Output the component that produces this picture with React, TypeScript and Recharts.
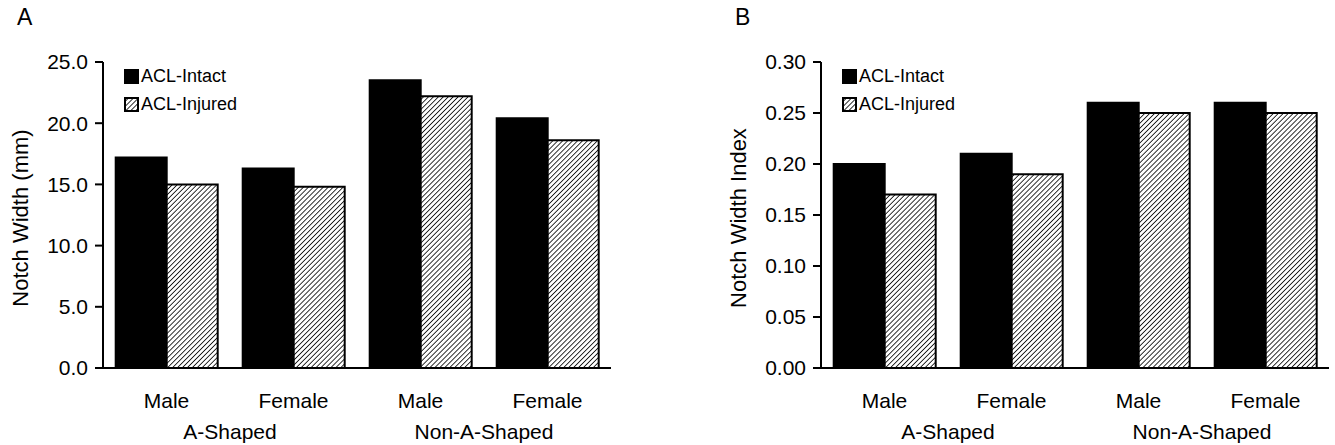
import React from 'react'
import { Bar, BarChart, XAxis, YAxis } from 'recharts'

const sexes = ['Male', 'Female', 'Male', 'Female']
const shapes = ['A-Shaped', 'A-Shaped', 'Non-A-Shaped', 'Non-A-Shaped']

const widthIntact = [17.2, 16.3, 23.5, 20.4]
const widthInjured = [15.0, 14.8, 22.2, 18.6]

const indexIntact = [0.20, 0.21, 0.26, 0.26]
const indexInjured = [0.17, 0.19, 0.25, 0.25]

const widthTicks = [0, 5, 10, 15, 20, 25]
const indexTicks = [0, 0.05, 0.1, 0.15, 0.2, 0.25, 0.3]

const FONT = 'Arial, "Liberation Sans", Helvetica, sans-serif'
const AXIS_FONT = 21

const buildRows = (intact: number[], injured: number[]) =>
  sexes.map((sex, i) => ({ sex, shape: shapes[i], intact: intact[i], injured: injured[i] }))

const HatchSwatch: React.FC<{ id: string }> = ({ id }) => (
  <svg width={15} height={15} style={{ display: 'block' }}>
    <defs>
      <pattern id={`swatch-${id}`} patternUnits='userSpaceOnUse' width={3.5} height={3.5} patternTransform='rotate(45)'>
        <rect width={3.5} height={3.5} fill='#fff' />
        <line x1={0} y1={0} x2={0} y2={3.5} stroke='#000' strokeWidth={1.6} />
      </pattern>
    </defs>
    <rect x={1} y={1} width={13} height={13} fill={`url(#swatch-${id})`} stroke='#000' strokeWidth={2} />
  </svg>
)

// legend drawn as a plain overlay so it does not steal space from the plot
const LegendBox: React.FC<{ id: string }> = ({ id }) => (
  <div style={{ position: 'absolute', left: 124, top: 62, fontFamily: FONT, fontSize: 18, color: '#000', lineHeight: '28px' }}>
    <div style={{ display: 'flex', alignItems: 'center' }}>
      <div style={{ width: 15, height: 15, background: '#000', marginRight: 2 }} />
      <span>ACL-Intact</span>
    </div>
    <div style={{ display: 'flex', alignItems: 'center' }}>
      <div style={{ marginRight: 2 }}>
        <HatchSwatch id={id} />
      </div>
      <span>ACL-Injured</span>
    </div>
  </div>
)

const YTitle: React.FC<any> = ({ viewBox, value }) => {
  const cy = viewBox.y + viewBox.height / 2 + 3
  return (
    <text x={20} y={cy} transform={`rotate(-90 20 ${cy})`} textAnchor='middle' dominantBaseline='central'
      fontFamily={FONT} fontSize={22} fill='#000'>
      {value}
    </text>
  )
}

interface PanelProps {
  id: string
  letter: string
  title: string
  intact: number[]
  injured: number[]
  ticks: number[]
  digits: number
  left: number
}

const Panel: React.FC<PanelProps> = ({ id, letter, title, intact, injured, ticks, digits, left }) => {
  const rows = buildRows(intact, injured)
  const max = ticks[ticks.length - 1]
  const tickStyle = { fill: '#000', fontSize: AXIS_FONT, fontFamily: FONT }
  return (
    <div style={{ position: 'absolute', left, top: 0, width: 617, height: 445 }}>
      <div style={{ position: 'absolute', left: 17, top: 4, fontFamily: FONT, fontSize: 23, color: '#000' }}>{letter}</div>
      <BarChart width={617} height={445} data={rows} margin={{ top: 62, right: 6, bottom: 0, left: 30 }}
        barCategoryGap='10%' barGap={0}>
        <defs>
          <pattern id={`hatch-${id}`} patternUnits='userSpaceOnUse' width={3.5} height={3.5} patternTransform='rotate(45)'>
            <rect width={3.5} height={3.5} fill='#fff' />
            <line x1={0} y1={0} x2={0} y2={3.5} stroke='#000' strokeWidth={1.6} />
          </pattern>
        </defs>
        <XAxis dataKey='sex' axisLine={{ stroke: '#000', strokeWidth: 2 }} tickLine={false} tickSize={0}
          tickMargin={25} height={40} interval={0} tick={tickStyle} />
        <XAxis xAxisId='shape' dataKey='shape' allowDuplicatedCategory={false} axisLine={false} tickLine={false}
          tickSize={0} tickMargin={16} height={37} interval={0} tick={tickStyle} />
        <YAxis domain={[0, max]} ticks={ticks} width={73} axisLine={{ stroke: '#000', strokeWidth: 2 }}
          tickLine={{ stroke: '#000', strokeWidth: 2 }} tickSize={8} tickMargin={7} interval={0}
          tickFormatter={(v: number) => v.toFixed(digits)} tick={tickStyle}
          label={<YTitle value={title} />} />
        <Bar dataKey='intact' name='ACL-Intact' fill='#000' stroke='#000' strokeWidth={2} isAnimationActive={false} />
        <Bar dataKey='injured' name='ACL-Injured' fill={`url(#hatch-${id})`} stroke='#000' strokeWidth={2}
          isAnimationActive={false} />
      </BarChart>
      <LegendBox id={id} />
    </div>
  )
}

const App: React.FC = () => {
  return (
    <div style={{ position: 'absolute', left: 0, top: 0, width: 1335, height: 445, background: '#fff', overflow: 'hidden' }}>
      <Panel id='a' letter='A' title='Notch Width (mm)' intact={widthIntact} injured={widthInjured}
        ticks={widthTicks} digits={1} left={0} />
      <Panel id='b' letter='B' title='Notch Width Index' intact={indexIntact} injured={indexInjured}
        ticks={indexTicks} digits={2} left={718} />
    </div>
  )
}

export default App
